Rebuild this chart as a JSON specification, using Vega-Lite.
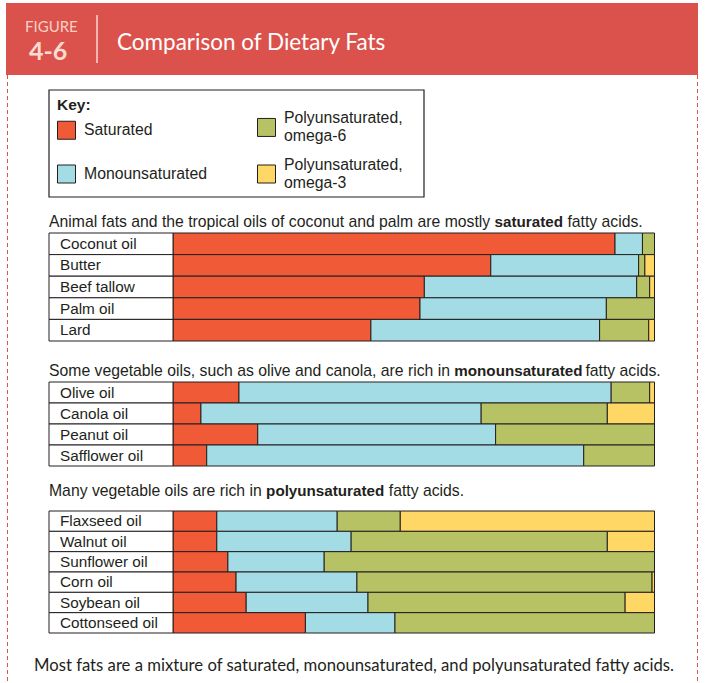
{
  "$schema": "https://vega.github.io/schema/vega-lite/v6.json",
  "width": 705,
  "height": 683,
  "padding": 0,
  "autosize": "none",
  "background": "white",
  "config": {"view": {"stroke": null}, "font": "Liberation Sans"},
  "datasets": {
    "fats": [
      {"group": "saturated", "oil": "Coconut oil", "type": "Saturated", "value": 91.8},
      {"group": "saturated", "oil": "Coconut oil", "type": "Monounsaturated", "value": 5.7},
      {"group": "saturated", "oil": "Coconut oil", "type": "Polyunsaturated, omega-6", "value": 2.5},
      {"group": "saturated", "oil": "Butter", "type": "Saturated", "value": 66.0},
      {"group": "saturated", "oil": "Butter", "type": "Monounsaturated", "value": 30.7},
      {"group": "saturated", "oil": "Butter", "type": "Polyunsaturated, omega-6", "value": 1.3},
      {"group": "saturated", "oil": "Butter", "type": "Polyunsaturated, omega-3", "value": 2.0},
      {"group": "saturated", "oil": "Beef tallow", "type": "Saturated", "value": 52.2},
      {"group": "saturated", "oil": "Beef tallow", "type": "Monounsaturated", "value": 44.1},
      {"group": "saturated", "oil": "Beef tallow", "type": "Polyunsaturated, omega-6", "value": 2.7},
      {"group": "saturated", "oil": "Beef tallow", "type": "Polyunsaturated, omega-3", "value": 1.0},
      {"group": "saturated", "oil": "Palm oil", "type": "Saturated", "value": 51.3},
      {"group": "saturated", "oil": "Palm oil", "type": "Monounsaturated", "value": 38.7},
      {"group": "saturated", "oil": "Palm oil", "type": "Polyunsaturated, omega-6", "value": 10.0},
      {"group": "saturated", "oil": "Lard", "type": "Saturated", "value": 41.1},
      {"group": "saturated", "oil": "Lard", "type": "Monounsaturated", "value": 47.5},
      {"group": "saturated", "oil": "Lard", "type": "Polyunsaturated, omega-6", "value": 10.2},
      {"group": "saturated", "oil": "Lard", "type": "Polyunsaturated, omega-3", "value": 1.2},
      {"group": "mono", "oil": "Olive oil", "type": "Saturated", "value": 13.7},
      {"group": "mono", "oil": "Olive oil", "type": "Monounsaturated", "value": 77.3},
      {"group": "mono", "oil": "Olive oil", "type": "Polyunsaturated, omega-6", "value": 8.0},
      {"group": "mono", "oil": "Olive oil", "type": "Polyunsaturated, omega-3", "value": 1.0},
      {"group": "mono", "oil": "Canola oil", "type": "Saturated", "value": 5.8},
      {"group": "mono", "oil": "Canola oil", "type": "Monounsaturated", "value": 58.2},
      {"group": "mono", "oil": "Canola oil", "type": "Polyunsaturated, omega-6", "value": 26.2},
      {"group": "mono", "oil": "Canola oil", "type": "Polyunsaturated, omega-3", "value": 9.8},
      {"group": "mono", "oil": "Peanut oil", "type": "Saturated", "value": 17.6},
      {"group": "mono", "oil": "Peanut oil", "type": "Monounsaturated", "value": 49.4},
      {"group": "mono", "oil": "Peanut oil", "type": "Polyunsaturated, omega-6", "value": 33.0},
      {"group": "mono", "oil": "Safflower oil", "type": "Saturated", "value": 7.0},
      {"group": "mono", "oil": "Safflower oil", "type": "Monounsaturated", "value": 78.3},
      {"group": "mono", "oil": "Safflower oil", "type": "Polyunsaturated, omega-6", "value": 14.7},
      {"group": "poly", "oil": "Flaxseed oil", "type": "Saturated", "value": 9.1},
      {"group": "poly", "oil": "Flaxseed oil", "type": "Monounsaturated", "value": 25.0},
      {"group": "poly", "oil": "Flaxseed oil", "type": "Polyunsaturated, omega-6", "value": 13.1},
      {"group": "poly", "oil": "Flaxseed oil", "type": "Polyunsaturated, omega-3", "value": 52.8},
      {"group": "poly", "oil": "Walnut oil", "type": "Saturated", "value": 9.1},
      {"group": "poly", "oil": "Walnut oil", "type": "Monounsaturated", "value": 27.9},
      {"group": "poly", "oil": "Walnut oil", "type": "Polyunsaturated, omega-6", "value": 53.2},
      {"group": "poly", "oil": "Walnut oil", "type": "Polyunsaturated, omega-3", "value": 9.8},
      {"group": "poly", "oil": "Sunflower oil", "type": "Saturated", "value": 11.4},
      {"group": "poly", "oil": "Sunflower oil", "type": "Monounsaturated", "value": 20.0},
      {"group": "poly", "oil": "Sunflower oil", "type": "Polyunsaturated, omega-6", "value": 68.6},
      {"group": "poly", "oil": "Corn oil", "type": "Saturated", "value": 13.1},
      {"group": "poly", "oil": "Corn oil", "type": "Monounsaturated", "value": 25.1},
      {"group": "poly", "oil": "Corn oil", "type": "Polyunsaturated, omega-6", "value": 61.3},
      {"group": "poly", "oil": "Corn oil", "type": "Polyunsaturated, omega-3", "value": 0.5},
      {"group": "poly", "oil": "Soybean oil", "type": "Saturated", "value": 15.2},
      {"group": "poly", "oil": "Soybean oil", "type": "Monounsaturated", "value": 25.3},
      {"group": "poly", "oil": "Soybean oil", "type": "Polyunsaturated, omega-6", "value": 53.4},
      {"group": "poly", "oil": "Soybean oil", "type": "Polyunsaturated, omega-3", "value": 6.1},
      {"group": "poly", "oil": "Cottonseed oil", "type": "Saturated", "value": 27.5},
      {"group": "poly", "oil": "Cottonseed oil", "type": "Monounsaturated", "value": 18.6},
      {"group": "poly", "oil": "Cottonseed oil", "type": "Polyunsaturated, omega-6", "value": 53.9}
    ]
  },
  "resolve": {"scale": {"y": "independent"}},
  "layer": [
    {
      "data": {"values": [{}]},
      "mark": {"type": "rect", "color": "#DB524C"},
      "encoding": {"x": {"value": 6}, "x2": {"value": 698}, "y": {"value": 3}, "y2": {"value": 75}}
    },
    {
      "data": {"values": [{}]},
      "mark": {"type": "rule", "color": "#D9534F", "strokeWidth": 1, "strokeDash": [4, 3]},
      "encoding": {"x": {"value": 7.5}, "y": {"value": 75}, "y2": {"value": 683}}
    },
    {
      "data": {"values": [{}]},
      "mark": {"type": "rule", "color": "#D9534F", "strokeWidth": 1, "strokeDash": [4, 3]},
      "encoding": {"x": {"value": 697.5}, "y": {"value": 75}, "y2": {"value": 683}}
    },
    {
      "data": {"values": [{}]},
      "mark": {"type": "rule", "color": "#F6D9D3", "strokeWidth": 1.5},
      "encoding": {"x": {"value": 97}, "y": {"value": 15}, "y2": {"value": 63}}
    },
    {
      "data": {"values": [{"t": "FIGURE"}]},
      "mark": {"type": "text", "align": "left", "baseline": "alphabetic", "font": "Lato", "fontSize": 15, "color": "#F9CFC4"},
      "encoding": {"x": {"value": 25}, "y": {"value": 31.5}, "text": {"field": "t"}}
    },
    {
      "data": {"values": [{"t": "4-6"}]},
      "mark": {"type": "text", "align": "left", "baseline": "alphabetic", "font": "Lato", "fontSize": 25, "fontWeight": "bold", "color": "#FCDCD2"},
      "encoding": {"x": {"value": 29}, "y": {"value": 60}, "text": {"field": "t"}}
    },
    {
      "data": {"values": [{"t": "Comparison of Dietary Fats"}]},
      "mark": {"type": "text", "align": "left", "baseline": "alphabetic", "font": "Lato", "fontSize": 22.5, "color": "#FFFFFF"},
      "encoding": {"x": {"value": 117}, "y": {"value": 50}, "text": {"field": "t"}}
    },
    {
      "data": {"values": [{}]},
      "mark": {"type": "rect", "fill": "white", "stroke": "#231F20", "strokeWidth": 1.2},
      "encoding": {"x": {"value": 49}, "x2": {"value": 424}, "y": {"value": 90}, "y2": {"value": 197}}
    },
    {
      "data": {"name": "fats"},
      "transform": [
        {"filter": "datum.group == 'saturated'"},
        {"calculate": "indexof(['Saturated', 'Monounsaturated', 'Polyunsaturated, omega-6', 'Polyunsaturated, omega-3'], datum.type)", "as": "rank"}
      ],
      "encoding": {
        "y": {"field": "oil", "type": "nominal", "sort": null, "axis": null,
              "scale": {"range": [233, 341], "paddingInner": 0, "paddingOuter": 0}}
      },
      "layer": [
        {
          "mark": {"type": "bar", "stroke": "#231F20", "strokeWidth": 1},
          "encoding": {
            "x": {"field": "value", "type": "quantitative", "stack": "normalize", "axis": null,
                  "scale": {"domain": [0, 1], "range": [173, 654.5], "nice": false}},
            "order": {"field": "rank", "type": "quantitative"},
            "color": {
              "field": "type", "type": "nominal",
              "scale": {
                "domain": ["Saturated", "Monounsaturated", "Polyunsaturated, omega-6", "Polyunsaturated, omega-3"],
                "range": ["#F15A36", "#A3DCE4", "#B7C264", "#FFD765"]
              },
              "legend": {
                "orient": "none", "legendX": 49, "legendY": 90,
                "title": "Key:", "titleFont": "Liberation Sans", "titleFontSize": 15.5, "titleFontWeight": "bold",
                "titleColor": "#231F20", "titlePadding": 4, "titleAnchor": "start",
                "values": ["Saturated", "Monounsaturated", "Polyunsaturated, omega-6", "Polyunsaturated, omega-3"],
                "columns": 2, "columnPadding": 48, "rowPadding": 12,
                "symbolType": "square", "symbolSize": 324, "symbolStrokeWidth": 1, "symbolStrokeColor": "#231F20", "symbolOpacity": 1,
                "labelFont": "Liberation Sans", "labelFontSize": 15.8, "labelColor": "#231F20", "labelOffset": 8, "labelLimit": 0,
                "labelExpr": "split(replace(datum.label, ', ', ',|'), '|')",
                "labelBaseline": {"expr": "indexof(datum.label, ',') >= 0 ? 'line-bottom' : 'middle'"},
                "padding": 8
              }
            }
          }
        },
        {
          "transform": [{"filter": "datum.type == 'Saturated'"}],
          "mark": {"type": "rect", "fill": "white", "stroke": "#231F20", "strokeWidth": 1},
          "encoding": {"x": {"value": 49}, "x2": {"value": 173}}
        },
        {
          "transform": [{"filter": "datum.type == 'Saturated'"}],
          "mark": {"type": "text", "align": "left", "baseline": "middle", "font": "Liberation Sans", "fontSize": 15.3, "color": "#231F20"},
          "encoding": {"x": {"value": 60}, "text": {"field": "oil"}}
        }
      ]
    },
    {
      "data": {"name": "fats"},
      "transform": [
        {"filter": "datum.group == 'mono'"},
        {"calculate": "indexof(['Saturated', 'Monounsaturated', 'Polyunsaturated, omega-6', 'Polyunsaturated, omega-3'], datum.type)", "as": "rank"}
      ],
      "encoding": {
        "y": {"field": "oil", "type": "nominal", "sort": null, "axis": null,
              "scale": {"range": [382, 466], "paddingInner": 0, "paddingOuter": 0}}
      },
      "layer": [
        {
          "mark": {"type": "bar", "stroke": "#231F20", "strokeWidth": 1},
          "encoding": {
            "x": {"field": "value", "type": "quantitative", "stack": "normalize", "axis": null},
            "order": {"field": "rank", "type": "quantitative"},
            "color": {"field": "type", "type": "nominal"}
          }
        },
        {
          "transform": [{"filter": "datum.type == 'Saturated'"}],
          "mark": {"type": "rect", "fill": "white", "stroke": "#231F20", "strokeWidth": 1},
          "encoding": {"x": {"value": 49}, "x2": {"value": 173}}
        },
        {
          "transform": [{"filter": "datum.type == 'Saturated'"}],
          "mark": {"type": "text", "align": "left", "baseline": "middle", "font": "Liberation Sans", "fontSize": 15.3, "color": "#231F20"},
          "encoding": {"x": {"value": 60}, "text": {"field": "oil"}}
        }
      ]
    },
    {
      "data": {"name": "fats"},
      "transform": [
        {"filter": "datum.group == 'poly'"},
        {"calculate": "indexof(['Saturated', 'Monounsaturated', 'Polyunsaturated, omega-6', 'Polyunsaturated, omega-3'], datum.type)", "as": "rank"}
      ],
      "encoding": {
        "y": {"field": "oil", "type": "nominal", "sort": null, "axis": null,
              "scale": {"range": [511, 633], "paddingInner": 0, "paddingOuter": 0}}
      },
      "layer": [
        {
          "mark": {"type": "bar", "stroke": "#231F20", "strokeWidth": 1},
          "encoding": {
            "x": {"field": "value", "type": "quantitative", "stack": "normalize", "axis": null},
            "order": {"field": "rank", "type": "quantitative"},
            "color": {"field": "type", "type": "nominal"}
          }
        },
        {
          "transform": [{"filter": "datum.type == 'Saturated'"}],
          "mark": {"type": "rect", "fill": "white", "stroke": "#231F20", "strokeWidth": 1},
          "encoding": {"x": {"value": 49}, "x2": {"value": 173}}
        },
        {
          "transform": [{"filter": "datum.type == 'Saturated'"}],
          "mark": {"type": "text", "align": "left", "baseline": "middle", "font": "Liberation Sans", "fontSize": 15.3, "color": "#231F20"},
          "encoding": {"x": {"value": 60}, "text": {"field": "oil"}}
        }
      ]
    },
    {
      "data": {"values": [{"t": "Animal fats and the tropical oils of coconut and palm are mostly"}]},
      "mark": {"type": "text", "align": "left", "baseline": "alphabetic", "font": "Liberation Sans", "fontSize": 15.75, "color": "#231F20"},
      "encoding": {"x": {"value": 49}, "y": {"value": 227}, "text": {"field": "t"}}
    },
    {
      "data": {"values": [{"t": "saturated"}]},
      "mark": {"type": "text", "align": "left", "baseline": "alphabetic", "font": "Liberation Sans", "fontSize": 15.2, "fontWeight": "bold", "color": "#231F20"},
      "encoding": {"x": {"value": 494.6}, "y": {"value": 227}, "text": {"field": "t"}}
    },
    {
      "data": {"values": [{"t": "fatty acids."}]},
      "mark": {"type": "text", "align": "left", "baseline": "alphabetic", "font": "Liberation Sans", "fontSize": 15.75, "color": "#231F20"},
      "encoding": {"x": {"value": 567.4}, "y": {"value": 227}, "text": {"field": "t"}}
    },
    {
      "data": {"values": [{"t": "Some vegetable oils, such as olive and canola, are rich in"}]},
      "mark": {"type": "text", "align": "left", "baseline": "alphabetic", "font": "Liberation Sans", "fontSize": 15.75, "color": "#231F20"},
      "encoding": {"x": {"value": 49}, "y": {"value": 375.5}, "text": {"field": "t"}}
    },
    {
      "data": {"values": [{"t": "monounsaturated"}]},
      "mark": {"type": "text", "align": "left", "baseline": "alphabetic", "font": "Liberation Sans", "fontSize": 15.2, "fontWeight": "bold", "color": "#231F20"},
      "encoding": {"x": {"value": 454.3}, "y": {"value": 375.5}, "text": {"field": "t"}}
    },
    {
      "data": {"values": [{"t": "fatty acids."}]},
      "mark": {"type": "text", "align": "left", "baseline": "alphabetic", "font": "Liberation Sans", "fontSize": 15.75, "color": "#231F20"},
      "encoding": {"x": {"value": 585.4}, "y": {"value": 375.5}, "text": {"field": "t"}}
    },
    {
      "data": {"values": [{"t": "Many vegetable oils are rich in"}]},
      "mark": {"type": "text", "align": "left", "baseline": "alphabetic", "font": "Liberation Sans", "fontSize": 15.75, "color": "#231F20"},
      "encoding": {"x": {"value": 49}, "y": {"value": 496}, "text": {"field": "t"}}
    },
    {
      "data": {"values": [{"t": "polyunsaturated"}]},
      "mark": {"type": "text", "align": "left", "baseline": "alphabetic", "font": "Liberation Sans", "fontSize": 15.2, "fontWeight": "bold", "color": "#231F20"},
      "encoding": {"x": {"value": 266.1}, "y": {"value": 496}, "text": {"field": "t"}}
    },
    {
      "data": {"values": [{"t": "fatty acids."}]},
      "mark": {"type": "text", "align": "left", "baseline": "alphabetic", "font": "Liberation Sans", "fontSize": 15.75, "color": "#231F20"},
      "encoding": {"x": {"value": 388.8}, "y": {"value": 496}, "text": {"field": "t"}}
    },
    {
      "data": {"values": [{"t": "Most fats are a mixture of saturated, monounsaturated, and polyunsaturated fatty acids."}]},
      "mark": {"type": "text", "align": "center", "baseline": "alphabetic", "font": "Lato", "fontSize": 16.7, "color": "#231F20"},
      "encoding": {"x": {"value": 354}, "y": {"value": 671}, "text": {"field": "t"}}
    }
  ]
}
